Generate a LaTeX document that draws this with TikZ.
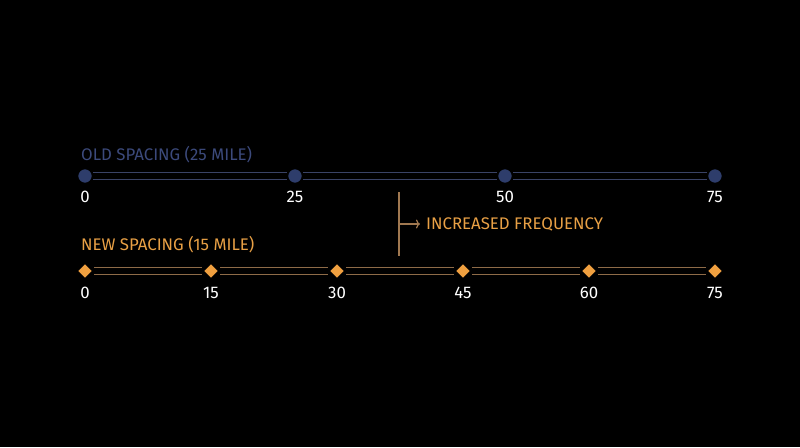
\documentclass[tikz,border=0pt]{standalone}
\usepackage{fontspec}
\setmainfont{Fira Sans}
\usetikzlibrary{arrows.meta,shapes.geometric}
\definecolor{oldc}{HTML}{2E3D6B}
\definecolor{oldrail}{HTML}{3A4366}
\definecolor{oldtxt}{HTML}{3C4A7C}
\definecolor{newc}{HTML}{F0A040}
\definecolor{newrail}{HTML}{8E6B48}
\definecolor{newtxt}{HTML}{E8A045}
\definecolor{freqline}{HTML}{A07850}
\begin{document}
\begin{tikzpicture}[x=1pt,y=-1pt,
  olddot/.style={circle,fill=oldc,draw=black,line width=1.5pt,minimum size=15pt,inner sep=0pt},
  newdot/.style={diamond,fill=newc,draw=black,line width=1.5pt,minimum size=16.5pt,inner sep=0pt},
  oldrl/.style={draw=oldrail,line width=1.8pt},
  newrl/.style={draw=newrail,line width=1.8pt},
  num/.style={text=white,font=\fontsize{16.8}{20}\selectfont},
  lbl/.style={anchor=west,font=\fontsize{16.8}{20}\selectfont,inner sep=0pt}]
\fill[black] (0,0) rectangle (800,447);
\useasboundingbox (0,0) rectangle (800,447);
% old spacing
\node[lbl,text=oldtxt] (oldlbl) at (81,155) {OLD SPACING (25 MILE)};
\foreach \i/\x/\v in {0/85/0,1/295/25,2/505/50,3/715/75}{
  \node[olddot] (o\i) at (\x,176) {};
  \node[num] (on\i) at (\x,196.5) {\v};
}
\foreach \a/\b in {0/1,1/2,2/3}{
  \draw[oldrl] ([yshift=3.5pt]o\a.east) -- ([yshift=3.5pt]o\b.west);
  \draw[oldrl] ([yshift=-3.5pt]o\a.east) -- ([yshift=-3.5pt]o\b.west);
}
\foreach \i in {0,1,2,3}{ \node[olddot] at (o\i) {}; }
% new spacing
\node[lbl,text=newtxt] (newlbl) at (81,245) {NEW SPACING (15 MILE)};
\foreach \i/\x/\v in {0/85/0,1/211/15,2/337/30,3/463/45,4/589/60,5/715/75}{
  \node[newdot] (n\i) at (\x,271) {};
  \node[num] (nn\i) at (\x,292.5) {\v};
}
\foreach \a/\b in {0/1,1/2,2/3,3/4,4/5}{
  \draw[newrl] ([yshift=3.5pt]n\a.east) -- ([yshift=3.5pt]n\b.west);
  \draw[newrl] ([yshift=-3.5pt]n\a.east) -- ([yshift=-3.5pt]n\b.west);
}
\foreach \i in {0,...,5}{ \node[newdot] at (n\i) {}; }
% frequency marker
\coordinate (vt) at (399,192);
\coordinate (vb) at (399,256);
\coordinate (am) at (399,224);
\draw[freqline,line width=1.2pt] (vt) -- (vb);
\node[lbl,text=newtxt] (freq) at (426,224) {INCREASED FREQUENCY};
\draw[freqline,line width=1.2pt,-{To[length=4pt,width=9pt]}] (am) -- ([xshift=-6pt]freq.west);
\end{tikzpicture}
\end{document}
